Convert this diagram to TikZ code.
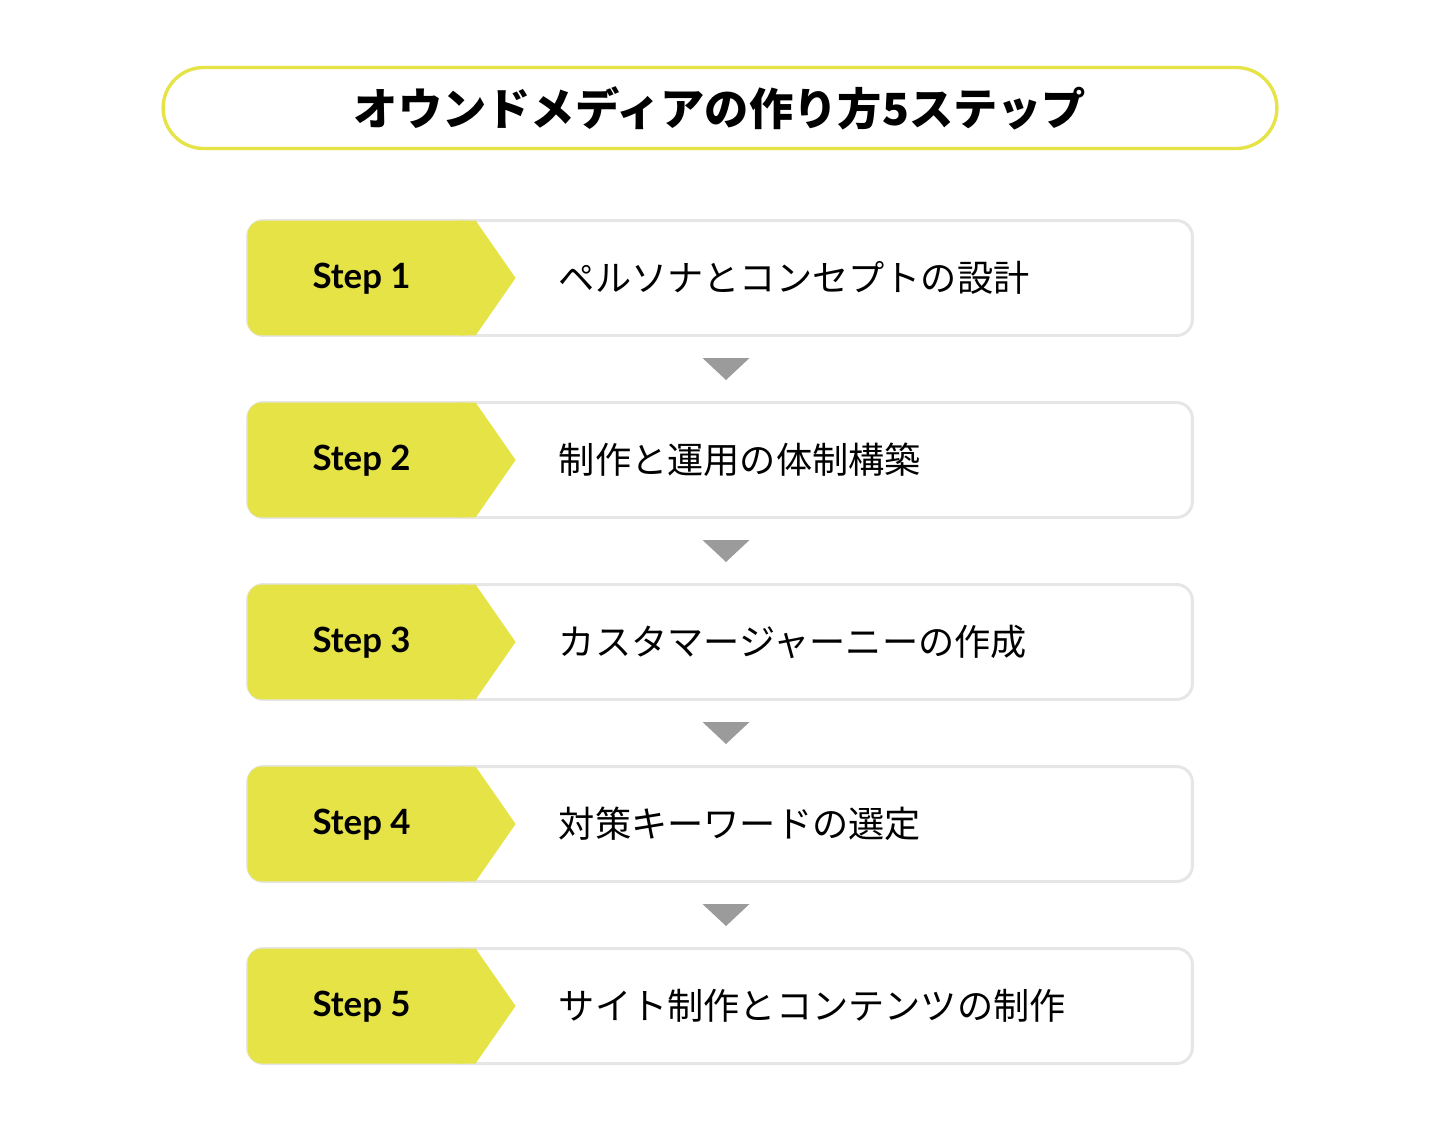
\documentclass[tikz,border=0pt]{standalone}
\usepackage{fontspec}
\setmainfont{Noto Sans CJK JP}
\newfontfamily\stepfont{Lato}
\usetikzlibrary{calc}

\definecolor{stepyellow}{HTML}{E5E345}
\definecolor{boxgray}{HTML}{E6E6E6}
\definecolor{arrowgray}{HTML}{9B9B9B}

\tikzset{
	titlebox/.style={draw=stepyellow,line width=1.9pt,rounded corners=0.81cm,
		minimum width=22.28cm,minimum height=1.62cm,inner sep=0pt,
		font=\fontsize{25.2}{30}\selectfont\bfseries},
	stepbox/.style={draw=boxgray,line width=1.7pt,rounded corners=0.32cm,
		minimum width=18.9cm,minimum height=2.3cm,inner sep=0pt},
	steplabel/.style={font=\stepfont\fontsize{19.8}{23}\selectfont\bfseries,inner sep=0pt},
	steptext/.style={font=\fontsize{20.6}{24}\selectfont,inner sep=0pt,anchor=west}
}

\begin{document}
\begin{tikzpicture}[x=0.02cm,y=-0.02cm]
	\useasboundingbox (0,0) rectangle (1440,1130);

	\node[titlebox] (title) at (720,108) {オウンドメディアの作り方5ステップ};

	\foreach \n/\desc in
		{1/ペルソナとコンセプトの設計,2/制作と運用の体制構築,3/カスタマージャーニーの作成,
		 4/対策キーワードの選定,5/サイト制作とコンテンツの制作}
	{
		\node[stepbox] (box\n) at (720,{278+(\n-1)*182}) {};
		% yellow tag with arrow point
		\fill[stepyellow,rounded corners=0.28cm]
			($(box\n.north west)+(1.5,1.5)$) rectangle ($(box\n.south west)+(229.5,-1.5)$);
		\fill[stepyellow] ($(box\n.north west)+(213.5,1.5)$) -- ++(16,0)
			-- ($(box\n.west)+(269.5,0)$) -- ($(box\n.south west)+(229.5,-1.5)$) -- ++(-16,0) -- cycle;
		\node[steplabel] (label\n) at ($(box\n.west)+(115.5,1)$) {Step \n};
		\node[steptext] (text\n) at ($(box\n.west)+(312.5,0)$) {\desc};
	}

	\foreach \i/\j in {1/2,2/3,3/4,4/5}
		\fill[arrowgray] ($(box\i.south)!0.5!(box\j.north)+(6,0)$) ++(-23.5,-11) -- ++(47,0) -- ++(-23.5,22) -- cycle;
\end{tikzpicture}
\end{document}
